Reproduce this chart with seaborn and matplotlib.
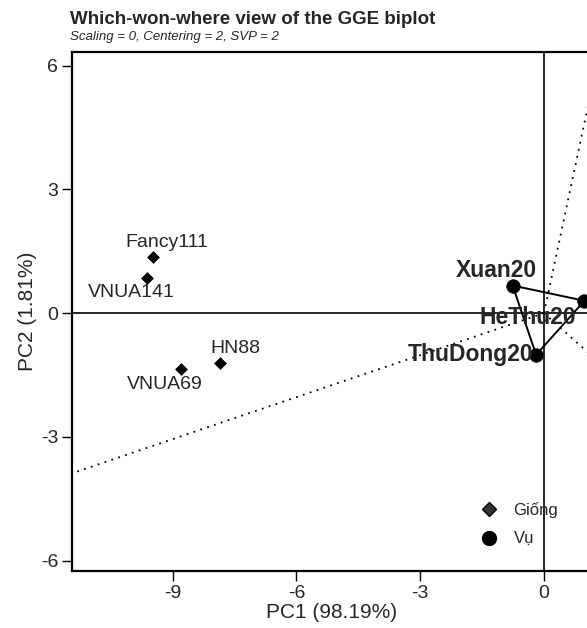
# GGE biplot — visão "which-won-where"
# Refaz o gráfico com os genótipos (Giống) e os ambientes (Vụ),
# o polígono ligando os ambientes e os raios perpendiculares aos lados.

import numpy as np
import pandas as pd
import matplotlib
matplotlib.use('Agg')
import matplotlib.pyplot as plt
from matplotlib.lines import Line2D
import seaborn as sns


# BLOCO 1 — DADOS
genotipos = ['Fancy111', 'VNUA141', 'HN88', 'VNUA69']
gen_pc1   = [-9.47, -9.61, -7.85, -8.81]
gen_pc2   = [1.35, 0.86, -1.22, -1.35]

ambientes = ['Xuan20', 'HeThu20', 'ThuDong20']
amb_pc1   = [-0.76, 0.98, -0.19]
amb_pc2   = [0.67, 0.30, -1.01]

x_ticks = [-9, -6, -3, 0]
y_ticks = [-6, -3, 0, 3, 6]

df_gen = pd.DataFrame({'nome': genotipos, 'PC1': gen_pc1, 'PC2': gen_pc2})
df_amb = pd.DataFrame({'nome': ambientes, 'PC1': amb_pc1, 'PC2': amb_pc2})


# BLOCO 2 — FIGURA E EIXOS
sns.set_style('ticks')
plt.rcParams['font.family'] = ['Liberation Sans', 'DejaVu Sans']
plt.rcParams['axes.unicode_minus'] = False

fig = plt.figure(figsize=(5.87, 6.28), dpi=100)
# eixo quadrado, a borda direita fica logo fora da imagem (como no original)
ax = fig.add_axes([72/587, 57/628, 519/587, 519/628])
ax.set_xlim(-11.44, 1.14)
ax.set_ylim(-6.25, 6.33)

ax.axhline(0, color='black', lw=1.2, zorder=1)
ax.axvline(0, color='black', lw=1.2, zorder=1)


# BLOCO 3 — POLÍGONO E RAIOS
poly = df_amb[['PC1', 'PC2']].to_numpy()
fechado = np.vstack([poly, poly[:1]])
ax.plot(fechado[:, 0], fechado[:, 1], color='black', lw=1.4, zorder=2)

# raio: da origem na direção do pé da perpendicular a cada lado
for i in range(len(poly)):
    p1 = poly[i]
    p2 = poly[(i + 1) % len(poly)]
    d = p2 - p1
    t = -np.dot(p1, d) / np.dot(d, d)
    pe = p1 + t * d
    u = pe / np.linalg.norm(pe)
    ax.plot([0, u[0] * 30], [0, u[1] * 30], color='black', lw=1.3,
            linestyle=(0, (1, 3)), zorder=1)


# BLOCO 4 — PONTOS
sns.scatterplot(data=df_gen, x='PC1', y='PC2', marker='D', s=36,
                color='black', edgecolor='black', linewidth=0.5,
                ax=ax, zorder=3, legend=False)
sns.scatterplot(data=df_amb, x='PC1', y='PC2', marker='o', s=95,
                color='black', edgecolor='black', linewidth=0.5,
                ax=ax, zorder=3, legend=False)

# rótulos dos genótipos (deslocamento em pontos)
desloc_gen = {'Fancy111': (10, 11), 'VNUA141': (-11.5, -11),
              'HN88': (11, 11), 'VNUA69': (-11.5, -11.5)}
for _, r in df_gen.iterrows():
    ax.annotate(r['nome'], (r['PC1'], r['PC2']), xytext=desloc_gen[r['nome']],
                textcoords='offset points', ha='center', va='center',
                fontsize=14, zorder=4)

# rótulos dos ambientes (negrito)
desloc_amb = {'Xuan20': ((-12, 11), 'center'),
              'HeThu20': ((-41, -12), 'center'),
              'ThuDong20': ((-2, 0), 'right')}
for _, r in df_amb.iterrows():
    off, ha = desloc_amb[r['nome']]
    ax.annotate(r['nome'], (r['PC1'], r['PC2']), xytext=off,
                textcoords='offset points', ha=ha, va='center',
                fontsize=16.5, fontweight='bold', zorder=4)


# BLOCO 5 — EIXOS, TÍTULOS E LEGENDA
ax.set_xticks(x_ticks)
ax.set_yticks(y_ticks)
ax.tick_params(direction='out', length=7, width=1, labelsize=14,
               color='black', pad=3)
for s in ax.spines.values():
    s.set_visible(True)
    s.set_linewidth(1.6)
    s.set_color('black')

ax.set_xlabel('PC1 (98.19%)', fontsize=15, labelpad=1)
ax.set_ylabel('PC2 (1.81%)', fontsize=15, labelpad=3)

fig.text(70/587, 1 - 19/628, 'Which-won-where view of the GGE biplot',
         fontsize=13.5, fontweight='bold', ha='left', va='center')
fig.text(70/587, 1 - 37/628, 'Scaling = 0, Centering = 2, SVP = 2',
         fontsize=9.5, style='italic', ha='left', va='center')

handles = [
    Line2D([], [], marker='D', linestyle='', markersize=7.5,
           markerfacecolor='#333333', markeredgecolor='black', label='Giống'),
    Line2D([], [], marker='o', linestyle='', markersize=10,
           markerfacecolor='black', markeredgecolor='black', label='Vụ'),
]
fig.legend(handles=handles, loc='upper left', frameon=False,
           bbox_to_anchor=(481/587, 1 - 502/628), bbox_transform=fig.transFigure,
           fontsize=12, handlelength=1, handletextpad=0.95, labelspacing=0.8,
           borderpad=0, borderaxespad=0)

plt.savefig('out.png', dpi=100)
plt.close()
